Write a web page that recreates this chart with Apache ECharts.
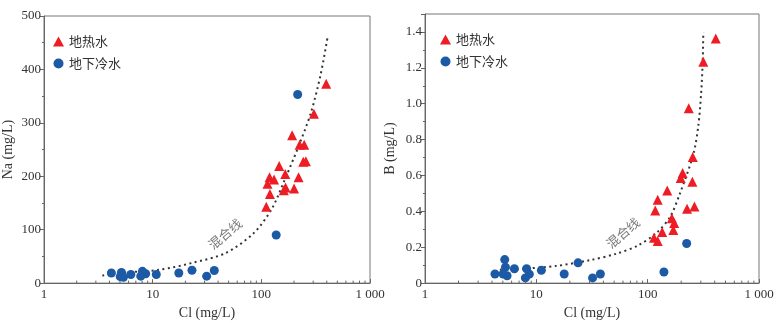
<!DOCTYPE html>
<html>
<head>
<meta charset="utf-8">
<script src="https://cdn.jsdelivr.net/npm/echarts@6/dist/echarts.min.js"></script>
<style>
html,body{margin:0;padding:0;background:#fff}
.j-chart{width:779px;height:325px}
</style>
</head>
<body>
<div class="j-chart"></div>
<script>
// 左图 Na - Cl
const hotCl1 = [395, 305, 192, 225, 248, 243, 257, 146, 166, 119, 131, 114, 220, 120, 167, 161, 200, 111]
const hotNa = [373, 317, 277, 259, 259, 227, 228, 219, 204, 198, 194, 186, 198, 167, 179, 174, 177, 143]
const coldCl1 = [4.17, 5.16, 5.03, 5.38, 6.3, 8.05, 7.77, 8.62, 10.8, 17.4, 23, 31.4, 36.9, 137, 216]
const coldNa = [19, 20, 12, 11, 16, 22, 13, 17.5, 16, 19, 24, 13, 23.5, 90, 353]
const mixCl1 = [3.44, 5.8, 11.6, 23.3, 46.7, 84.5, 124, 163, 216, 285, 351, 409]
const mixNa = [14, 20, 25, 38, 56, 93, 138, 192, 252, 318, 390, 463]

// 右图 B - Cl
const hotCl2 = [409, 316, 234, 254, 206, 198, 252, 150, 123, 117, 226, 263, 165, 173, 170, 135, 114, 123]
const hotB = [1.364, 1.234, 0.975, 0.703, 0.614, 0.586, 0.565, 0.516, 0.464, 0.405, 0.415, 0.427, 0.362, 0.335, 0.296, 0.285, 0.253, 0.235]
const coldCl2 = [4.25, 5.2, 5.28, 5.03, 5.46, 6.35, 8.18, 7.97, 8.65, 11.1, 17.8, 23.7, 32, 37.6, 140, 224]
const coldB = [0.051, 0.131, 0.089, 0.051, 0.041, 0.08, 0.08, 0.029, 0.05, 0.071, 0.051, 0.113, 0.029, 0.051, 0.062, 0.221]
const mixCl2 = [4.7, 7.6, 15.2, 30.3, 52.6, 82, 120, 159, 195, 257, 285, 302, 312, 316]
const mixB = [0.075, 0.08, 0.096, 0.128, 0.164, 0.21, 0.28, 0.369, 0.5, 0.717, 0.877, 1.055, 1.234, 1.4]

const xTicks = [1, 10, 100, 1000]
const minorCl = [2, 3, 4, 5, 6, 7, 8, 9, 20, 30, 40, 50, 60, 70, 80, 90, 200, 300, 400, 500, 600, 700, 800, 900]
const mixText = '混合线'
const mixTextPos1 = [46.4, 92]
const mixTextPos2 = [60, 0.28]

const zip = (a, b) => a.map((v, i) => [v, b[i]])

const serif = 'Liberation Serif'
const cjk = 'Noto Sans CJK SC'
const red = '#ee1c25'
const blue = '#1d5aa6'
const axisColor = '#666'

const xAxisOf = (gi) => ({
    type: 'log',
    gridIndex: gi,
    logBase: 10,
    min: 1,
    max: 1000,
    name: 'Cl (mg/L)',
    nameLocation: 'middle',
    nameGap: 21,
    nameTextStyle: {fontFamily: serif, fontSize: 14, color: '#333'},
    axisLine: {lineStyle: {color: axisColor}},
    axisTick: {inside: true, length: 4, lineStyle: {color: axisColor}},
    axisLabel: {
        fontFamily: serif, fontSize: 13, color: '#333', margin: 5,
        formatter: v => xTicks.includes(v) ? (v === 1000 ? '1 000' : String(v)) : ''
    },
    splitLine: {show: false}
})

const yAxisOf = (gi, name, max, interval, dec) => ({
    type: 'value',
    gridIndex: gi,
    min: 0,
    max: max,
    interval: interval,
    name: name,
    nameLocation: 'middle',
    nameGap: gi === 0 ? 29 : 28,
    nameTextStyle: {fontFamily: serif, fontSize: 14, color: '#333'},
    axisLine: {show: true, lineStyle: {color: axisColor}},
    axisTick: {show: true, length: 4, lineStyle: {color: axisColor}},
    minorTick: {show: true, splitNumber: 2, length: 2, lineStyle: {color: axisColor}},
    axisLabel: {
        fontFamily: serif, fontSize: 13, color: '#333', margin: 3,
        showMaxLabel: gi === 0,
        formatter: v => v === 0 ? '0' : v.toFixed(dec)
    },
    splitLine: {show: false}
})

const minorTickSeries = (gi) => ({
    type: 'custom',
    xAxisIndex: gi,
    yAxisIndex: gi,
    silent: true,
    z: 5,
    data: minorCl.map(v => [v, 0]),
    renderItem: (params, api) => {
        const p = api.coord([api.value(0), api.value(1)])
        return {
            type: 'line',
            shape: {x1: p[0], y1: p[1], x2: p[0], y2: p[1] - 2.5},
            style: {stroke: axisColor, lineWidth: 1}
        }
    }
})

const mixSeries = (gi, data) => ({
    type: 'line',
    xAxisIndex: gi,
    yAxisIndex: gi,
    data: data,
    showSymbol: false,
    smooth: 0.3,
    silent: true,
    lineStyle: {color: '#333', width: 2, type: [2, 3.5]},
    z: 1
})

const textSeries = (gi, pos) => ({
    type: 'scatter',
    xAxisIndex: gi,
    yAxisIndex: gi,
    data: [pos],
    symbolSize: 0,
    silent: true,
    label: {
        show: true, position: 'inside', formatter: mixText, rotate: 40,
        fontFamily: cjk, fontSize: 13, color: '#555'
    }
})

const pointSeries = (gi, name, data, symbol, color, size) => ({
    type: 'scatter',
    name: name,
    xAxisIndex: gi,
    yAxisIndex: gi,
    data: data,
    symbol: symbol,
    symbolSize: size,
    itemStyle: {color: color, opacity: 1},
    z: 3
})

const legendOf = (left, top) => ({
    left: left,
    top: top,
    orient: 'vertical',
    itemGap: 9,
    itemWidth: 11,
    itemHeight: 10,
    textStyle: {fontFamily: cjk, fontSize: 13, color: '#333'},
    data: [{name: '地热水', icon: 'triangle'}, {name: '地下冷水', icon: 'circle'}]
})

const myecharts = echarts.init(document.querySelector('.j-chart'))
const option = {
    animation: false,
    grid: [
        {left: 39, right: 409, top: 16, bottom: 32, show: true, borderColor: '#777', borderWidth: 1},
        {left: 425, right: 20, top: 14, bottom: 31, show: true, borderColor: '#777', borderWidth: 1}
    ],
    legend: [legendOf(48, 30), legendOf(435, 28)],
    xAxis: [xAxisOf(0), xAxisOf(1)],
    yAxis: [yAxisOf(0, 'Na (mg/L)', 500, 100, 0), yAxisOf(1, 'B (mg/L)', 1.5, 0.2, 1)],
    series: [
        mixSeries(0, zip(mixCl1, mixNa)),
        pointSeries(0, '地热水', zip(hotCl1, hotNa), 'triangle', red, 10),
        pointSeries(0, '地下冷水', zip(coldCl1, coldNa), 'circle', blue, 9),
        textSeries(0, mixTextPos1),
        minorTickSeries(0),
        mixSeries(1, zip(mixCl2, mixB)),
        pointSeries(1, '地热水', zip(hotCl2, hotB), 'triangle', red, 10),
        pointSeries(1, '地下冷水', zip(coldCl2, coldB), 'circle', blue, 9),
        textSeries(1, mixTextPos2),
        minorTickSeries(1)
    ]
}
myecharts.setOption(option)
</script>
</body>
</html>
